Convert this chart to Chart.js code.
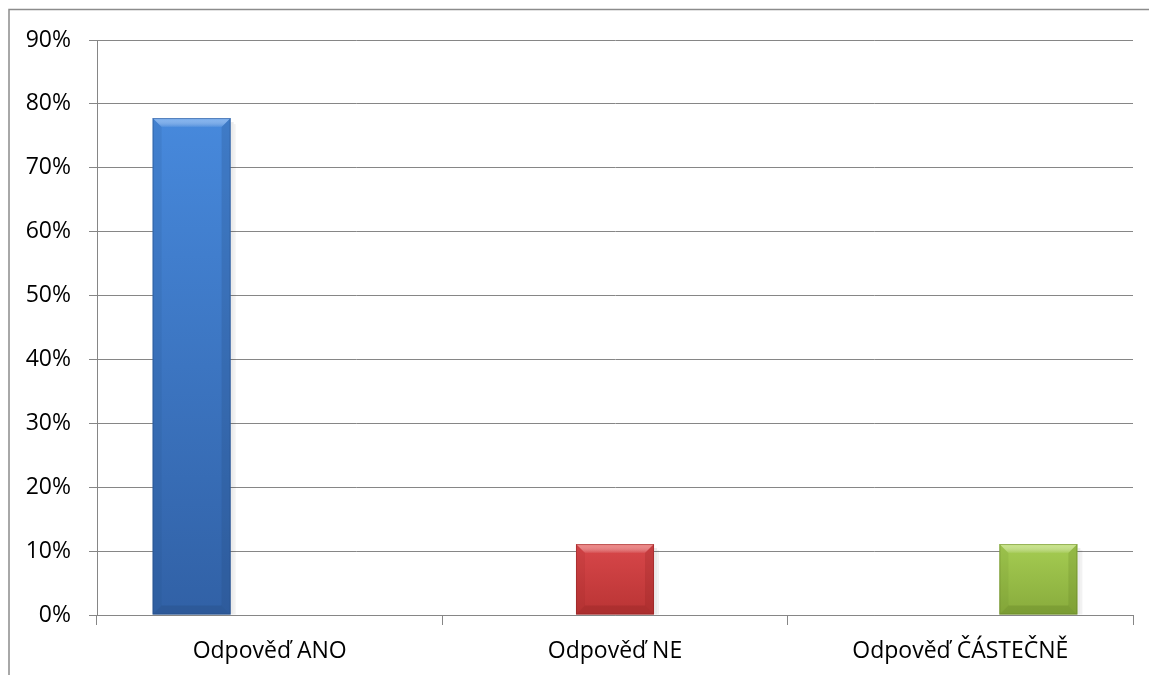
<!DOCTYPE html>
<html>
<head>
<meta charset="utf-8">
<script src="https://cdn.jsdelivr.net/npm/chart.js@4"></script>
<style>
  html, body { margin: 0; padding: 0; background: #fff; }
  #wrap { width: 1149px; height: 675px; position: relative; }
</style>
</head>
<body>
<div id="wrap"><canvas id="c" width="1149" height="675"></canvas></div>
<script>
// Survey answers (share of respondents, %)
const categories = ['Odpověď ANO', 'Odpověď NE', 'Odpověď ČÁSTEČNĚ'];
const seriesAno = [77.78, null, null];
const seriesNe = [null, 11.11, null];
const seriesCastecne = [null, null, 11.11];
const yTicks = [0, 10, 20, 30, 40, 50, 60, 70, 80, 90];

// Per-series palette: [top, bottom, highlight, edge]
const palettes = [
  ['#4789dc', '#3161a6', '#7fb2f2', '#24487c'],
  ['#d8474a', '#b93434', '#f08a88', '#8a2222'],
  ['#a5cc52', '#88ab3c', '#cbe68a', '#5e7a22']
];

// Vertical gradient spanning the bar's own height, taken from the value scale
function barGradient(idx) {
  return function (ctx) {
    const chart = ctx.chart;
    const ys = chart.scales && chart.scales.y;
    if (!chart.chartArea || !ys || ctx.raw == null) return palettes[idx][0];
    const top = ys.getPixelForValue(ctx.raw);
    const bottom = ys.getPixelForValue(0);
    if (!isFinite(top) || !isFinite(bottom) || top === bottom) return palettes[idx][0];
    const g = chart.ctx.createLinearGradient(0, top, 0, bottom);
    g.addColorStop(0, palettes[idx][0]);
    g.addColorStop(1, palettes[idx][1]);
    return g;
  };
}

// Frame around the drawing (only the top and left edges lie inside the canvas)
const framePlugin = {
  id: 'frame',
  beforeDraw(chart) {
    const c = chart.ctx;
    c.save();
    c.strokeStyle = '#8c8c8c';
    c.lineWidth = 1.5;
    c.beginPath();
    c.moveTo(9, chart.height + 5);
    c.lineTo(9, 9.5);
    c.lineTo(chart.width + 5, 9.5);
    c.stroke();
    c.restore();
  }
};

// Bevelled edges and a soft shadow on each bar
const bevelPlugin = {
  id: 'bevel',
  beforeDatasetsDraw(chart) {
    const c = chart.ctx;
    chart.data.datasets.forEach((ds, di) => {
      chart.getDatasetMeta(di).data.forEach((bar, i) => {
        if (ds.data[i] == null) return;
        const { x, y, base, width } = bar.getProps(['x', 'y', 'base', 'width'], true);
        const r = x + width / 2;
        c.save();
        c.fillStyle = 'rgba(0,0,0,0.08)';
        c.fillRect(r, y + 4, 3, base - y - 4);
        c.fillStyle = 'rgba(0,0,0,0.05)';
        c.fillRect(r + 3, y + 6, 2, base - y - 6);
        c.restore();
      });
    });
  },
  afterDatasetsDraw(chart) {
    const c = chart.ctx;
    chart.data.datasets.forEach((ds, di) => {
      chart.getDatasetMeta(di).data.forEach((bar, i) => {
        if (ds.data[i] == null) return;
        const { x, y, base, width } = bar.getProps(['x', 'y', 'base', 'width'], true);
        const l = x - width / 2, r = x + width / 2, t = y, b = base;
        const bw = Math.min(9, (b - t) / 3);
        const p = palettes[di];
        c.save();
        // top highlight
        const gt = c.createLinearGradient(0, t, 0, t + bw);
        gt.addColorStop(0, p[2]);
        gt.addColorStop(1, 'rgba(255,255,255,0.05)');
        c.globalAlpha = 0.9;
        c.fillStyle = gt;
        c.beginPath();
        c.moveTo(l, t); c.lineTo(r, t); c.lineTo(r - bw, t + bw); c.lineTo(l + bw, t + bw); c.closePath();
        c.fill();
        // right edge
        c.fillStyle = p[3];
        c.globalAlpha = 0.22;
        c.beginPath();
        c.moveTo(r, t); c.lineTo(r, b); c.lineTo(r - bw, b - bw); c.lineTo(r - bw, t + bw); c.closePath();
        c.fill();
        // left edge
        c.globalAlpha = 0.12;
        c.beginPath();
        c.moveTo(l, t); c.lineTo(l, b); c.lineTo(l + bw, b - bw); c.lineTo(l + bw, t + bw); c.closePath();
        c.fill();
        // bottom edge
        c.globalAlpha = 0.3;
        c.beginPath();
        c.moveTo(l, b); c.lineTo(r, b); c.lineTo(r - bw, b - bw); c.lineTo(l + bw, b - bw); c.closePath();
        c.fill();
        // thin dark rim
        c.globalAlpha = 0.45;
        c.strokeStyle = p[3];
        c.lineWidth = 1;
        c.strokeRect(l + 0.5, t + 0.5, width - 1, b - t - 1);
        c.restore();
      });
    });
  }
};

const tickFont = { family: '"Open Sans", Lato, sans-serif', size: 23 };

new Chart(document.getElementById('c'), {
  type: 'bar',
  data: {
    labels: categories,
    datasets: [
      { label: 'ANO', data: seriesAno, backgroundColor: barGradient(0) },
      { label: 'NE', data: seriesNe, backgroundColor: barGradient(1) },
      { label: 'ČÁSTEČNĚ', data: seriesCastecne, backgroundColor: barGradient(2) }
    ]
  },
  options: {
    responsive: false,
    animation: false,
    devicePixelRatio: 1,
    categoryPercentage: 0.678,
    barPercentage: 1,
    layout: { padding: { left: 0, right: 16, top: 40, bottom: 0 } },
    plugins: { legend: { display: false }, tooltip: { enabled: false } },
    scales: {
      x: {
        grid: { drawOnChartArea: false, color: '#868686', tickLength: 10, offset: true },
        border: { color: '#868686' },
        ticks: { color: '#000', font: tickFont, padding: 13, maxRotation: 0 },
        afterFit(s) { s.height = 60; }
      },
      y: {
        min: 0,
        max: 90,
        afterBuildTicks(s) { s.ticks = yTicks.map(v => ({ value: v })); },
        grid: { color: '#868686', tickLength: 8 },
        border: { color: '#868686' },
        ticks: { color: '#000', font: tickFont, padding: 18, callback: v => v + '%' },
        afterFit(s) { s.width = 97; }
      }
    }
  },
  plugins: [framePlugin, bevelPlugin]
});
</script>
</body>
</html>
